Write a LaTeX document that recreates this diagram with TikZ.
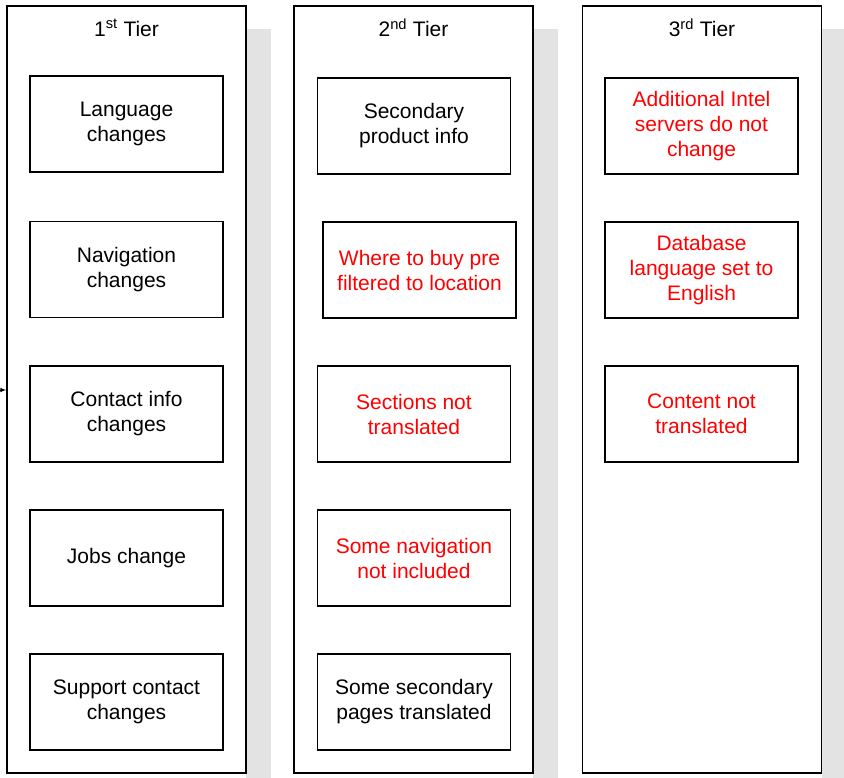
\documentclass[tikz,border=0pt]{standalone}
\usepackage{fontspec}
\setmainfont{Liberation Sans}
\usetikzlibrary{arrows}

\tikzset{
  tier/.style={draw, line width=1.6pt, minimum width=239pt, minimum height=767pt, inner sep=0pt},
  tierbox/.style={draw=black, line width=1.6pt, minimum width=193pt, minimum height=96pt, align=center, inner sep=0pt, font=\fontsize{21}{25}\selectfont},
  redtext/.style={text=red},
  shade/.style={fill=black!11, draw=none},
  head/.style={font=\fontsize{21}{25}\selectfont}
}

\begin{document}
\begin{tikzpicture}[x=1pt, y=-1pt]

  \useasboundingbox (0,0) rectangle (844,778);

  % shadows
  \fill[shade] (246,29) rectangle (271,778);
  \fill[shade] (533,29) rectangle (558,778);
  \fill[shade] (822,29) rectangle (844,778);

  % tiers
  \node[tier, fill=white] (t1) at (126.5, 389.5) {};
  \node[tier, fill=white] (t2) at (413.5, 389.5) {};
  \node[tier, fill=white] (t3) at (702, 389.5) {};

  \node[head] (h1) at (126.5, 28) {1\textsuperscript{st} Tier};
  \node[head] (h2) at (413.5, 28) {2\textsuperscript{nd} Tier};
  \node[head] (h3) at (702, 28) {3\textsuperscript{rd} Tier};

  % 1st tier
  \node[tierbox] (a1) at (126.5, 124) {Language\\changes};
  \node[tierbox] (a2) at (126.5, 269.5) {Navigation\\changes};
  \node[tierbox] (a3) at (126.5, 414) {Contact info\\changes};
  \node[tierbox] (a4) at (126.5, 558) {Jobs change};
  \node[tierbox] (a5) at (126.5, 702) {Support contact\\changes};

  % 2nd tier
  \node[tierbox] (b1) at (414, 126) {Secondary\\product info};
  \node[tierbox, redtext] (b2) at (419.5, 270) {Where to buy pre\\filtered to location};
  \node[tierbox, redtext] (b3) at (414, 414) {Sections not\\translated};
  \node[tierbox, redtext] (b4) at (414, 558) {Some navigation\\not included};
  \node[tierbox] (b5) at (414, 702) {Some secondary\\pages translated};

  % 3rd tier
  \node[tierbox, redtext] (c1) at (701.5, 126) {Additional Intel\\servers do not\\change};
  \node[tierbox, redtext] (c2) at (701.5, 270) {Database\\language set to\\English};
  \node[tierbox, redtext] (c3) at (701.5, 414) {Content not\\translated};

  \coordinate (in) at (0,390);
  \draw[-latex, line width=1pt] (in) -- (t1.west |- in);

\end{tikzpicture}
\end{document}
